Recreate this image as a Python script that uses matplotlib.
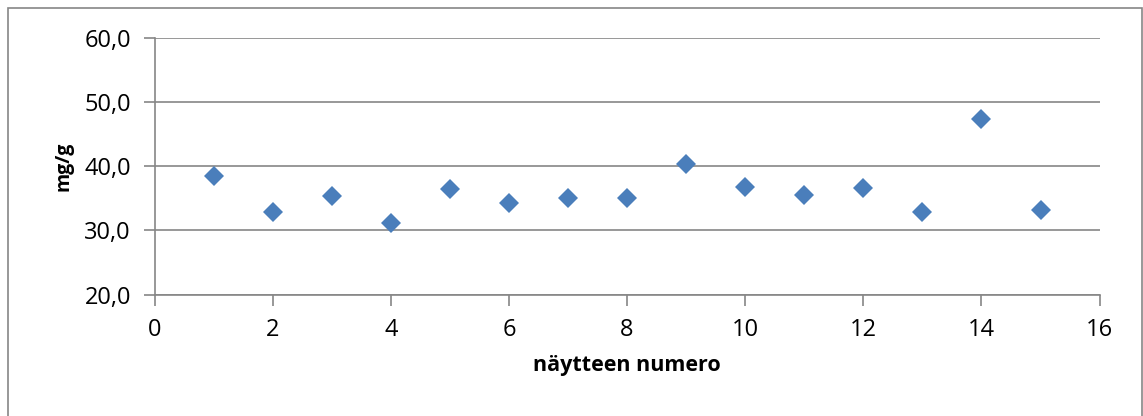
import matplotlib
matplotlib.use('Agg')
import matplotlib.pyplot as plt
from matplotlib.ticker import FuncFormatter
from matplotlib.patches import Rectangle

# sample number vs. concentration (mg/g)
sample_no = list(range(1, 16))
mg_per_g = [38.5, 32.8, 35.3, 31.1, 36.4, 34.3, 35.0, 35.1, 40.3, 36.8,
            35.5, 36.6, 32.8, 47.3, 33.2]

plt.rcParams['font.family'] = ['Open Sans', 'DejaVu Sans']
grey = '#868686'

fig = plt.figure(figsize=(11.43, 4.16), dpi=100)
ax = fig.add_axes([0.1352, 0.2916, 0.962 - 0.1352, 0.9094 - 0.2916])

# chart-area frame
fig.patches.append(Rectangle((8 / 1143, -0.1), 1134 / 1143, 1.1 - 8 / 416,
                             transform=fig.transFigure, fill=False,
                             edgecolor=grey, linewidth=1.2))

ax.plot(sample_no, mg_per_g, linestyle='none', marker='D', markersize=9.8,
        color='#4a7ebb', markeredgewidth=0, zorder=3)

ax.set_xlim(0, 16)
ax.set_ylim(20, 60)
ax.set_xticks(range(0, 17, 2))
ax.set_yticks(range(20, 61, 10))
ax.yaxis.set_major_formatter(FuncFormatter(lambda v, p: f'{v:.1f}'.replace('.', ',')))

ax.grid(axis='y', color=grey, linewidth=1.2)
ax.set_axisbelow(True)
for s in ['top', 'right']:
    ax.spines[s].set_visible(False)
for s in ['left', 'bottom']:
    ax.spines[s].set_color(grey)
    ax.spines[s].set_linewidth(1.2)
ax.tick_params(axis='both', colors=grey, labelcolor='black', labelsize=17,
               length=8, width=1.2, direction='out')
ax.tick_params(axis='x', pad=9)
ax.tick_params(axis='y', pad=9)

ax.set_xlabel('näytteen numero', fontsize=15.5, fontweight='bold', labelpad=9)
ax.set_ylabel('mg/g', fontsize=14, fontweight='bold', labelpad=8)

fig.savefig('out.png', dpi=100)
